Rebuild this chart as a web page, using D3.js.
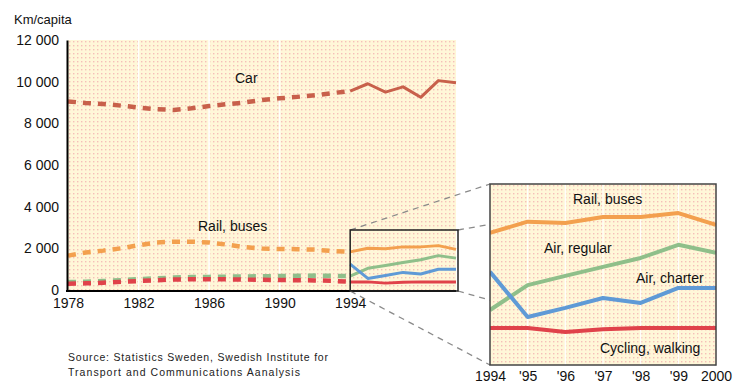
<!DOCTYPE html>
<html><head><meta charset="utf-8">
<script src="https://cdn.jsdelivr.net/npm/d3@7"></script>
<style>
body{margin:0;background:#fff;}
svg{display:block;font-family:"Liberation Sans",Arial,sans-serif;}
</style></head>
<body>
<svg id="c" width="734" height="383"></svg>
<script>
// ---- data ----
const years = d3.range(1978, 2001);
const car        = [9050,8980,8930,8850,8760,8680,8640,8720,8830,8920,9000,9120,9200,9270,9350,9450,9550,9900,9500,9750,9250,10050,9950];
const railBuses  = [1650,1800,1890,2000,2150,2280,2320,2320,2280,2180,2060,1990,1970,1960,1940,1870,1830,2000,1980,2070,2070,2130,1950];
const airRegular = [380,400,430,470,520,560,600,620,630,640,650,660,670,680,690,680,663,1040,1180,1315,1450,1650,1530];
const airCharter = [null,null,null,null,null,null,null,null,null,null,null,null,null,null,null,null,1240,557,694,845,769,997,997];
const cycling    = [300,320,350,390,430,470,500,520,520,510,500,490,480,470,460,440,390,390,330,370,390,390,390];
const splitYear = 1994;
const yTicks = [0,2000,4000,6000,8000,10000,12000];
const xTicks = [1978,1982,1986,1990,1994];
const insetTickLabels = ["1994","'95","'96","'97","'98","'99","2000"];
const zoomDomain = [-170, 2570];

const series = [
  {name:"Car", values:car, color:"#c8604a"},
  {name:"Rail, buses", values:railBuses, color:"#f3a04e"},
  {name:"Air, regular", values:airRegular, color:"#8fbf8a"},
  {name:"Air, charter", values:airCharter, color:"#5f9ad6"},
  {name:"Cycling, walking", values:cycling, color:"#e0424a"}
];

const svg = d3.select("#c");
const defs = svg.append("defs");
const pat = defs.append("pattern").attr("id","dots").attr("width",4).attr("height",4).attr("patternUnits","userSpaceOnUse");
pat.append("rect").attr("width",4).attr("height",4).attr("fill","#fff7d8");
pat.append("rect").attr("x",1).attr("y",1).attr("width",1.4).attr("height",1.4).attr("fill","#f5bfb8");

// scales
const x = d3.scaleLinear().domain([1978,2000]).range([68,456]);
const y = d3.scaleLinear().domain([0,12000]).range([290,40]);

// main background
svg.append("rect").attr("x",x(1978)).attr("y",y(12000)).attr("width",x(2000)-x(1978)).attr("height",y(0)-y(12000)).attr("fill","url(#dots)");
svg.append("g").selectAll("line").data(xTicks.slice(1,4)).join("line")
  .attr("x1",d=>x(d)).attr("x2",d=>x(d)).attr("y1",y(12000)).attr("y2",y(0))
  .attr("stroke","#fff").attr("stroke-width",1.5);

// lines
const pts = s => years.map((yr,i)=>({yr, v:s.values[i]}));
const line = d3.line().defined(d=>d.v!=null).x(d=>x(d.yr)).y(d=>y(d.v));
const gl = svg.append("g");
series.forEach(s=>{
  const p = pts(s);
  gl.append("path").datum(p.filter(d=>d.yr<=splitYear)).attr("d",line)
    .attr("fill","none").attr("stroke",s.color).attr("stroke-width",4.5).attr("stroke-dasharray","8,7");
  gl.append("path").datum(p.filter(d=>d.yr>=splitYear)).attr("d",line)
    .attr("fill","none").attr("stroke",s.color).attr("stroke-width",3).attr("stroke-linejoin","round");
});

// axes
const fmt = d => d3.format(",")(d).replace(/,/g," ");
const ya = svg.append("g").attr("transform",`translate(${x(1978)-1},0)`)
  .call(d3.axisLeft(y).tickValues(yTicks).tickFormat(fmt).tickSize(0).tickPadding(8));
ya.select(".domain").attr("stroke","#000").attr("stroke-width",2);
ya.selectAll("text").attr("font-size",14).attr("fill","#111").attr("font-family","Liberation Sans, Arial");
const xa = svg.append("g").attr("transform",`translate(0,${y(0)+1})`)
  .call(d3.axisBottom(x).tickValues(xTicks).tickFormat(d3.format("d")).tickSize(0).tickPadding(7));
xa.select(".domain").attr("stroke","#000").attr("stroke-width",2).attr("d",`M${x(1978)-2},0H${x(2000)}`);
xa.selectAll("text").attr("font-size",14).attr("fill","#111").attr("font-family","Liberation Sans, Arial");

svg.append("text").attr("x",14).attr("y",24).attr("font-size",13).attr("fill","#111").text("Km/capita");

// labels main
svg.append("text").attr("x",235).attr("y",83).attr("font-size",14).attr("fill","#111").text("Car");
svg.append("text").attr("x",198).attr("y",231).attr("font-size",14).attr("fill","#111").text("Rail, buses");

// zoom box in main
const bx0 = x(1994), bx1 = 458, by0 = 230, by1 = 291;
// inset geometry
const xi = d3.scaleLinear().domain([1994,2000]).range([490,716]);
const yi = d3.scaleLinear().domain(zoomDomain).range([365,184]);
const ix0 = xi(1994), ix1 = xi(2000), iy0 = yi(zoomDomain[1]), iy1 = yi(zoomDomain[0]);

// connectors
const conn = [[bx0,by0,ix0,iy0],[bx1,by0,ix1,iy0],[bx1,by1,ix1,iy1],[bx0,by1,ix0,iy1]];
svg.append("g").selectAll("line").data(conn).join("line")
  .attr("x1",d=>d[0]).attr("y1",d=>d[1]).attr("x2",d=>d[2]).attr("y2",d=>d[3])
  .attr("stroke","#8a8a8a").attr("stroke-width",1.3).attr("stroke-dasharray","6,5");
svg.append("rect").attr("x",bx0).attr("y",by0).attr("width",bx1-bx0).attr("height",by1-by0)
  .attr("fill","none").attr("stroke","#222").attr("stroke-width",1.5);

// inset
const gi = svg.append("g");
gi.append("rect").attr("x",ix0).attr("y",iy0).attr("width",ix1-ix0).attr("height",iy1-iy0).attr("fill","url(#dots)");
gi.append("g").selectAll("line").data(d3.range(1995,2000)).join("line")
  .attr("x1",d=>xi(d)).attr("x2",d=>xi(d)).attr("y1",iy0).attr("y2",iy1)
  .attr("stroke","#fff").attr("stroke-width",1.2);
defs.append("clipPath").attr("id","ic").append("rect").attr("x",ix0).attr("y",iy0).attr("width",ix1-ix0).attr("height",iy1-iy0);
const linei = d3.line().defined(d=>d.v!=null).x(d=>xi(d.yr)).y(d=>yi(d.v));
const gil = gi.append("g").attr("clip-path","url(#ic)");
series.slice(1).forEach(s=>{
  gil.append("path").datum(pts(s).filter(d=>d.yr>=splitYear)).attr("d",linei)
    .attr("fill","none").attr("stroke",s.color).attr("stroke-width",4).attr("stroke-linejoin","round");
});
gi.append("rect").attr("x",ix0).attr("y",iy0).attr("width",ix1-ix0).attr("height",iy1-iy0)
  .attr("fill","none").attr("stroke","#444").attr("stroke-width",1.5);
const xia = gi.append("g").attr("transform",`translate(0,${iy1})`)
  .call(d3.axisBottom(xi).tickValues(d3.range(1994,2001)).tickFormat((d,i)=>insetTickLabels[i]).tickSize(0).tickPadding(6));
xia.select(".domain").remove();
xia.selectAll("text").attr("font-size",14).attr("fill","#111").attr("font-family","Liberation Sans, Arial");

const ilabels = [
  {t:"Rail, buses", x:573, y:204},
  {t:"Air, regular", x:544, y:253},
  {t:"Air, charter", x:636, y:283},
  {t:"Cycling, walking", x:600, y:353}
];
gi.selectAll("text.lab").data(ilabels).join("text").attr("class","lab")
  .attr("x",d=>d.x).attr("y",d=>d.y).attr("font-size",14).attr("fill","#111").text(d=>d.t);

// source
svg.append("text").attr("x",68).attr("y",361).attr("font-size",10.5).attr("fill","#222")
  .attr("textLength",260).text("Source: Statistics Sweden, Swedish Institute for");
svg.append("text").attr("x",68).attr("y",376).attr("font-size",10.5).attr("fill","#222")
  .attr("textLength",232).text("Transport and Communications Aanalysis");
</script>
</body></html>
